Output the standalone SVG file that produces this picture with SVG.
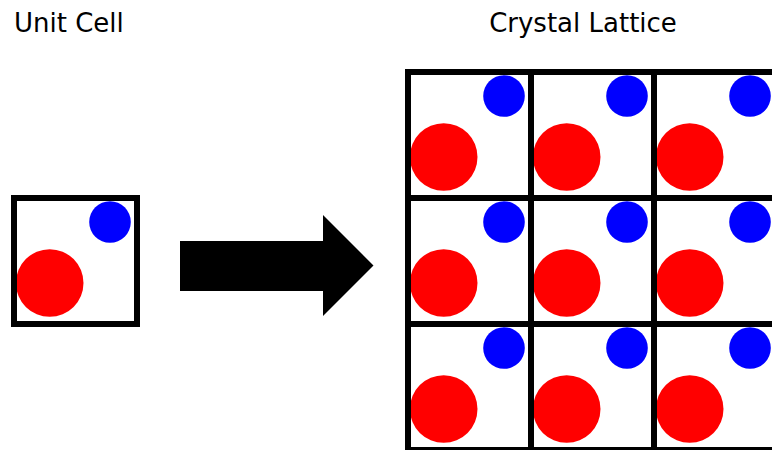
<svg xmlns="http://www.w3.org/2000/svg" xmlns:xlink="http://www.w3.org/1999/xlink" width="772" height="450" viewBox="0 0 772 450">
<style>
.lbl{font-family:"DejaVu Sans","Liberation Sans",sans-serif;font-size:26px;fill:#000}
.box{fill:none;stroke:#000;stroke-width:6}
.red{fill:#ff0000}
.blue{fill:#0000ff}
</style>
<defs>
<g id="cell">
<rect x="0" y="0" width="123" height="126" fill="#fff"/>
<circle class="red" cx="35.7" cy="85" r="33.8"/>
<circle class="blue" cx="96" cy="24" r="20.8"/>
<rect class="box" x="0" y="0" width="123" height="126"/>
</g>
</defs>
<rect width="772" height="450" fill="#fff"/>
<g id="title-unit"><text class="lbl" x="14" y="32">Unit Cell</text></g>
<g id="title-lattice"><text class="lbl" x="583" y="32" text-anchor="middle">Crystal Lattice</text></g>
<g id="unit-cell"><use xlink:href="#cell" href="#cell" x="14" y="198"/></g>
<g id="connectors">
<path id="arrow" d="M180,241 H323 V215 L373.5,265.5 L323,316 V291 H180 Z" fill="#000"/>
</g>
<g id="lattice">
<g id="c11"><use href="#cell" xlink:href="#cell" x="408" y="72"/></g>
<g id="c12"><use href="#cell" xlink:href="#cell" x="531" y="72"/></g>
<g id="c13"><use href="#cell" xlink:href="#cell" x="654" y="72"/></g>
<g id="c21"><use href="#cell" xlink:href="#cell" x="408" y="198"/></g>
<g id="c22"><use href="#cell" xlink:href="#cell" x="531" y="198"/></g>
<g id="c23"><use href="#cell" xlink:href="#cell" x="654" y="198"/></g>
<g id="c31"><use href="#cell" xlink:href="#cell" x="408" y="324"/></g>
<g id="c32"><use href="#cell" xlink:href="#cell" x="531" y="324"/></g>
<g id="c33"><use href="#cell" xlink:href="#cell" x="654" y="324"/></g>
</g>
</svg>
